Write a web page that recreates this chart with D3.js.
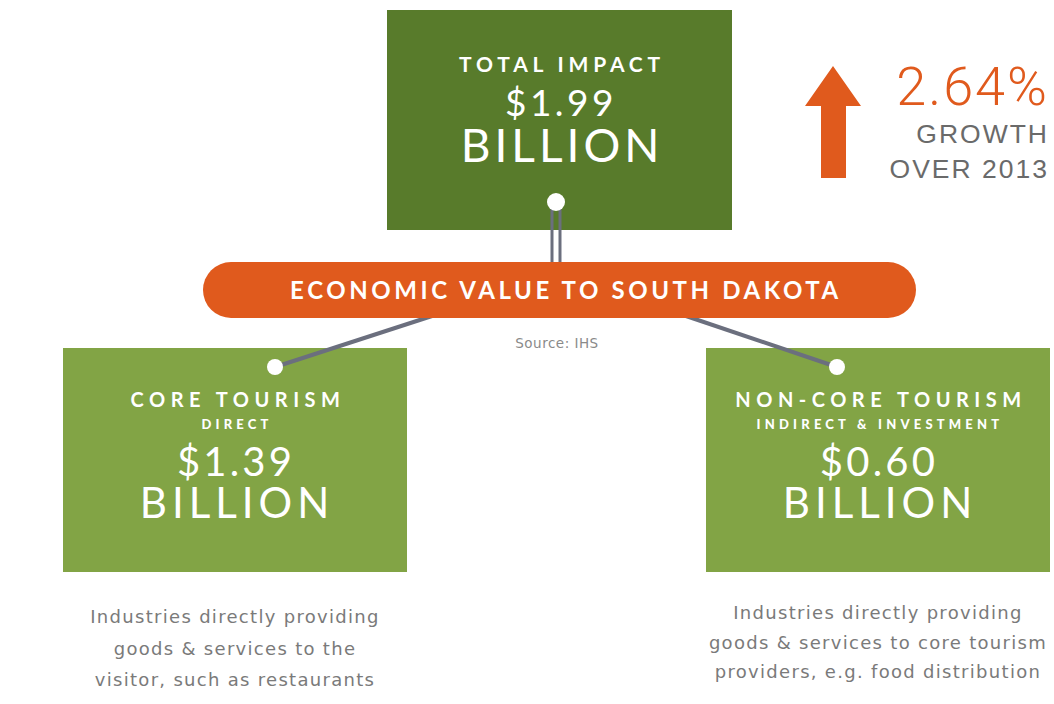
<!DOCTYPE html>
<html>
<head>
<meta charset="utf-8">
<script src="https://cdn.jsdelivr.net/npm/d3@7"></script>
<style>
  body { margin: 0; background: #fff; }
  svg { display: block; }
</style>
</head>
<body>
<svg id="chart" width="1054" height="704"></svg>
<script>
"use strict";

// Headline figure
const totalLabel = "TOTAL IMPACT";
const totalValue = 1.99;

// Growth callout
const growthPct = 2.64;
const growthLines = ["GROWTH", "OVER 2013"];

// Banner
const bannerText = "ECONOMIC VALUE TO SOUTH DAKOTA";
const sourceText = "Source: IHS";

// Breakdown categories
const segNames = ["CORE TOURISM", "NON-CORE TOURISM"];
const segSubs = ["DIRECT", "INDIRECT & INVESTMENT"];
const segValues = [1.39, 0.60];
const segNotes = [
    ["Industries directly providing", "goods & services to the", "visitor, such as restaurants"],
    ["Industries directly providing", "goods & services to core tourism", "providers, e.g. food distribution"]
];

const darkGreen = "#587b2b",
    lightGreen = "#82a445",
    orange = "#e05a1d",
    lineGray = "#6b6f7e",
    textGray = "#7a7a7a";

const boxFont = "Lato, 'DejaVu Sans', sans-serif";

const svg = d3.select("#chart");
const fmt = d3.format("$.2f");

// lower boxes placed along a band scale
const segX = d3.scaleBand().domain(segNames).range([63, 1050]).paddingInner(0.465).paddingOuter(0);
const boxTop = 348, boxH = 224;
const segCx = (d) => segX(d) + segX.bandwidth() / 2;

// top box
svg.append("rect")
    .attr("x", 387).attr("y", 10).attr("width", 345).attr("height", 220)
    .attr("fill", darkGreen);

const cx = 556;
[-4, 4].forEach((dx) => {
    svg.append("line")
        .attr("x1", cx + dx).attr("x2", cx + dx)
        .attr("y1", 205).attr("y2", 266)
        .attr("stroke", lineGray).attr("stroke-width", 3);
});

svg.append("g").selectAll("rect")
    .data(segNames)
    .join("rect")
    .attr("x", (d) => segX(d))
    .attr("y", boxTop)
    .attr("width", segX.bandwidth())
    .attr("height", boxH)
    .attr("fill", lightGreen);

// lines from banner to lower dots
const dotX = (i) => i === 0 ? segX(segNames[0]) + 212 : segX(segNames[1]) + 131;
const anchorX = [432, 686];
svg.append("g").selectAll("line")
    .data(segNames)
    .join("line")
    .attr("x1", (d, i) => anchorX[i]).attr("y1", 316)
    .attr("x2", (d, i) => dotX(i)).attr("y2", 367)
    .attr("stroke", lineGray).attr("stroke-width", 4);

svg.append("g").selectAll("circle")
    .data(segNames)
    .join("circle")
    .attr("cx", (d, i) => dotX(i)).attr("cy", 367).attr("r", 8)
    .attr("fill", "#fff");

// banner
svg.append("rect")
    .attr("x", 203).attr("y", 262).attr("width", 713).attr("height", 56)
    .attr("rx", 28).attr("fill", orange);
svg.append("text")
    .attr("x", 566).attr("y", 299)
    .attr("text-anchor", "middle")
    .attr("font-family", boxFont).attr("font-weight", 700)
    .attr("font-size", 24).attr("letter-spacing", 3.6)
    .attr("fill", "#fff")
    .text(bannerText);
svg.append("text")
    .attr("x", 557).attr("y", 348)
    .attr("text-anchor", "middle")
    .attr("font-family", "'DejaVu Sans', sans-serif").attr("font-size", 13.5)
    .attr("letter-spacing", 0.5)
    .attr("fill", "#8a8a8a")
    .text(sourceText);

// top dot
svg.append("circle").attr("cx", cx).attr("cy", 202).attr("r", 9).attr("fill", "#fff");

// top box text
const topText = svg.append("g").attr("fill", "#fff").attr("text-anchor", "middle")
    .attr("font-family", boxFont);
topText.append("text").attr("x", 562).attr("y", 72)
    .attr("font-size", 21).attr("font-weight", 700).attr("letter-spacing", 4.8)
    .text(totalLabel);
topText.append("text").attr("x", 561).attr("y", 116)
    .attr("font-size", 37).attr("letter-spacing", 3.5)
    .text(fmt(totalValue));
topText.append("text").attr("x", 562).attr("y", 162)
    .attr("font-size", 46).attr("letter-spacing", 4)
    .text("BILLION");

// lower box text
const segText = svg.append("g").selectAll("g")
    .data(segNames)
    .join("g")
    .attr("fill", "#fff").attr("text-anchor", "middle")
    .attr("font-family", boxFont);
segText.append("text")
    .attr("x", (d) => segCx(d) + 3).attr("y", 407)
    .attr("font-weight", 700)
    .attr("font-size", 20).attr("letter-spacing", 5.5)
    .text((d) => d);
segText.append("text")
    .attr("x", (d) => segCx(d) + 2).attr("y", 429)
    .attr("font-weight", 900)
    .attr("font-size", 13).attr("letter-spacing", 4.2)
    .text((d, i) => segSubs[i]);
segText.append("text")
    .attr("x", (d) => segCx(d) + 1).attr("y", 476)
    .attr("font-size", 40).attr("letter-spacing", 3.2)
    .text((d, i) => fmt(segValues[i]));
segText.append("text")
    .attr("x", (d) => segCx(d) + 2).attr("y", 518)
    .attr("font-size", 42).attr("letter-spacing", 5)
    .text("BILLION");

// notes under each box
const noteY = [[623, 655, 686], [619, 649, 678]];
segNames.forEach((d, i) => {
    svg.append("g").selectAll("text")
        .data(segNotes[i])
        .join("text")
        .attr("x", segCx(d))
        .attr("y", (t, j) => noteY[i][j])
        .attr("text-anchor", "middle")
        .attr("font-family", "'DejaVu Sans', sans-serif")
        .attr("font-size", 18)
        .attr("letter-spacing", 1.3)
        .attr("fill", textGray)
        .text((t) => t);
});

// growth arrow
svg.append("path")
    .attr("d", d3.line()([[821, 178], [821, 106], [805, 106], [833, 66], [861, 106], [846, 106], [846, 178]]) + "Z")
    .attr("fill", orange);

svg.append("text")
    .attr("x", 1049).attr("y", 105)
    .attr("text-anchor", "end")
    .attr("font-family", "Roboto, 'Liberation Sans', sans-serif").attr("font-weight", 300)
    .attr("font-size", 54).attr("letter-spacing", 2)
    .attr("fill", orange)
    .text(`${growthPct}%`);
svg.append("g").selectAll("text")
    .data(growthLines)
    .join("text")
    .attr("x", 1049)
    .attr("y", (d, i) => 143 + i * 35)
    .attr("text-anchor", "end")
    .attr("font-family", "'Liberation Sans', Arial, sans-serif")
    .attr("font-size", 26.5).attr("letter-spacing", 2)
    .attr("fill", "#6a6a6a")
    .text((d) => d);
</script>
</body>
</html>
